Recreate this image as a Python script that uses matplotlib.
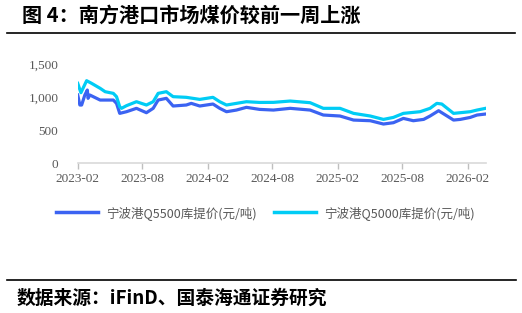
import matplotlib
matplotlib.use("Agg")
import matplotlib.pyplot as plt
import pandas as pd
from matplotlib.lines import Line2D

plt.rcParams['font.family'] = ['Noto Sans CJK SC', 'DejaVu Sans']

# Q5500 (lower, blue)
dates_5500 = ["2023-02-01", "2023-02-07", "2023-02-12", "2023-02-21", "2023-02-28", "2023-03-02",
              "2023-03-07", "2023-04-05", "2023-05-12", "2023-05-21", "2023-05-30", "2023-06-18",
              "2023-07-16", "2023-08-13", "2023-09-01", "2023-09-15", "2023-10-08", "2023-10-27",
              "2023-12-03", "2023-12-17", "2024-01-10", "2024-02-16", "2024-03-06", "2024-03-25",
              "2024-04-22", "2024-05-20", "2024-06-26", "2024-08-04", "2024-09-20", "2024-11-15",
              "2024-12-22", "2025-02-07", "2025-03-17", "2025-05-03", "2025-06-09", "2025-07-07",
              "2025-08-04", "2025-09-01", "2025-09-30", "2025-10-18", "2025-11-11", "2025-12-23",
              "2026-01-11", "2026-02-08", "2026-02-27", "2026-03-23"]
q5500 = [1032, 881, 881, 1032, 1107, 982,
         1032, 956, 956, 906, 755, 780,
         831, 765, 831, 956, 982, 866,
         881, 906, 866, 896, 831, 780,
         805, 846, 815, 805, 831, 805,
         730, 715, 654, 644, 594, 614,
         679, 644, 664, 715, 795, 654,
         664, 694, 730, 745]

# Q5000 (upper, cyan)
dates_5000 = ["2023-02-01", "2023-02-10", "2023-02-26", "2023-03-12", "2023-04-05", "2023-04-19",
              "2023-05-12", "2023-05-21", "2023-05-30", "2023-06-04", "2023-06-18", "2023-07-16",
              "2023-08-13", "2023-09-01", "2023-09-15", "2023-10-08", "2023-10-27", "2023-12-03",
              "2024-01-10", "2024-02-16", "2024-03-06", "2024-03-25", "2024-04-22", "2024-05-20",
              "2024-06-26", "2024-08-04", "2024-09-20", "2024-11-15", "2024-12-22", "2025-02-07",
              "2025-03-17", "2025-05-03", "2025-06-09", "2025-07-07", "2025-08-04", "2025-09-20",
              "2025-10-18", "2025-11-06", "2025-11-20", "2025-12-23", "2026-01-11", "2026-02-08",
              "2026-02-27", "2026-03-23"]
q5000 = [1208, 1067, 1248, 1208, 1133, 1082,
         1057, 1007, 856, 831, 871, 931,
         881, 931, 1057, 1082, 1007, 997,
         966, 997, 931, 881, 906, 931,
         920, 921, 941, 916, 831, 831,
         755, 715, 664, 694, 755, 780,
         831, 906, 896, 755, 765, 780,
         805, 831]

series_names = ["宁波港Q5500库提价(元/吨)", "宁波港Q5000库提价(元/吨)"]
x_ticks = ["2023-02", "2023-08", "2024-02", "2024-08", "2025-02", "2025-08", "2026-02"]
y_ticks = [0, 500, 1000, 1500]

title = "图 4：南方港口市场煤价较前一周上涨"
source = "数据来源：iFinD、国泰海通证券研究"

c_blue = "#3B63F2"
c_cyan = "#00CCF5"
grey_txt = "#595959"

fig = plt.figure(figsize=(5.22, 3.13), dpi=100)
ax = fig.add_axes([0.1489, 0.478, 0.782, 0.3175])

d1 = pd.to_datetime(dates_5500)
d2 = pd.to_datetime(dates_5000)
ax.plot(d1, q5500, color=c_blue, lw=2.3, label=series_names[0])
ax.plot(d2, q5000, color=c_cyan, lw=2.3, label=series_names[1])

ax.set_xlim(pd.Timestamp("2023-02-01"), pd.Timestamp("2026-03-24"))
ax.set_ylim(0, 1500)
ax.set_yticks(y_ticks)
ax.set_yticklabels([f"{v:,}" for v in y_ticks], fontfamily="Liberation Serif", fontsize=9.5, color=grey_txt)
xt = pd.to_datetime([s + "-01" for s in x_ticks])
ax.set_xticks(xt)
ax.set_xticklabels(x_ticks, fontfamily="Liberation Serif", fontsize=9.5, color=grey_txt)
ax.tick_params(axis="y", length=0, pad=14)
ax.tick_params(axis="x", length=4, width=1, color="#BFBFBF", pad=3)
for s in ["top", "right", "left"]:
    ax.spines[s].set_visible(False)
ax.spines["bottom"].set_color("#D9D9D9")
ax.spines["bottom"].set_linewidth(1.2)

leg = fig.legend(handles=ax.get_lines(), labels=series_names, loc="center",
                 bbox_to_anchor=(0.508, 0.32), ncol=2, frameon=False,
                 fontsize=9, handlelength=3.4, handletextpad=0.6, columnspacing=1.4)
for t in leg.get_texts():
    t.set_color(grey_txt)
for l in leg.get_lines():
    l.set_linewidth(2.5)

fig.text(22 / 522, 1 - 15 / 313, title, fontsize=14.5, fontweight="bold", va="center", ha="left")
fig.add_artist(Line2D([7 / 522, 515 / 522], [1 - 32.5 / 313, 1 - 32.5 / 313], color="black", lw=1.2))
fig.add_artist(Line2D([7 / 522, 516 / 522], [1 - 279.5 / 313, 1 - 279.5 / 313], color="black", lw=1.2))
fig.text(17 / 522, 1 - 298 / 313, source, fontsize=13.5, fontweight="bold", va="center", ha="left")

fig.savefig("out.png", dpi=100)
